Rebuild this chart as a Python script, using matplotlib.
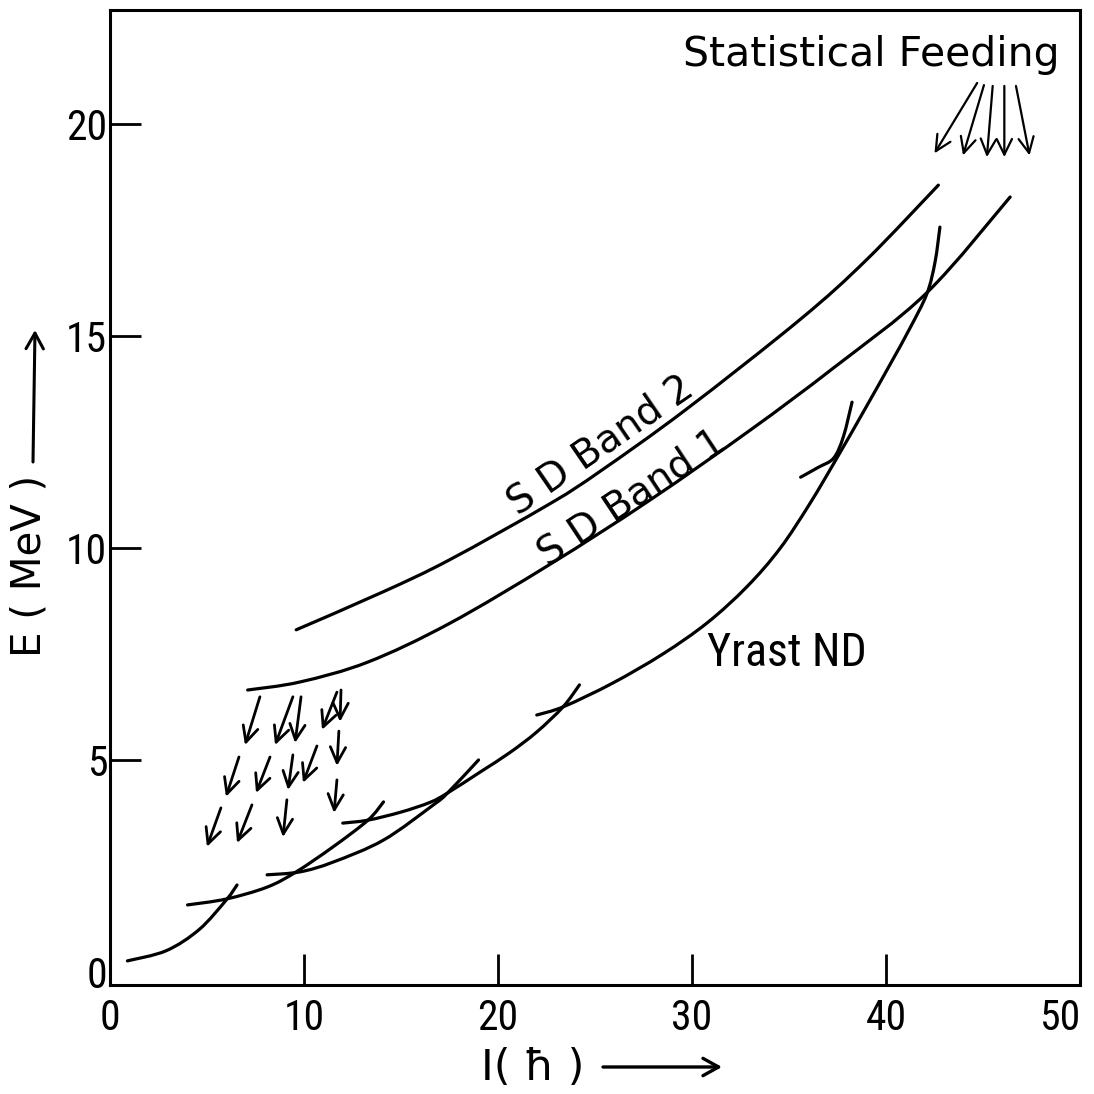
import matplotlib
matplotlib.use('Agg')
import matplotlib.pyplot as plt
from matplotlib import font_manager
from matplotlib.path import Path
from matplotlib.patches import PathPatch

# values: spin I (hbar) and energy E (MeV)
band2_I = [9.6, 14.1, 17.5, 22.7, 25.3, 29.7, 35.6, 39.0, 42.7]
band2_E = [8.07, 8.97, 9.72, 11.05, 11.82, 13.27, 15.40, 16.80, 18.56]

band1_I = [7.1, 9.8, 13.3, 17.5, 22.7, 27.8, 33.0, 37.3, 42.1, 46.4]
band1_E = [6.65, 6.84, 7.31, 8.22, 9.62, 11.12, 12.78, 14.25, 16.02, 18.28]

# normal deformed yrast segments
nd_a_I = [0.9, 2.9, 4.6, 6.0, 6.55]
nd_a_E = [0.26, 0.50, 1.00, 1.70, 2.05]
nd_b_I = [4.0, 6.0, 8.1, 9.6, 11.5, 13.3, 14.1]
nd_b_E = [1.58, 1.72, 2.00, 2.36, 2.95, 3.58, 4.01]
nd_c_I = [8.1, 9.8, 11.5, 14.1, 16.7, 17.4, 19.0]
nd_c_E = [2.29, 2.36, 2.59, 3.11, 3.95, 4.22, 5.00]
nd_d_I = [12.0, 13.3, 15.0, 16.5, 17.4, 19.1, 20.6, 22.0, 23.35, 24.2]
nd_d_E = [3.51, 3.58, 3.77, 4.00, 4.22, 4.72, 5.17, 5.66, 6.25, 6.77]
nd_e_I = [22.0, 23.4, 25.9, 28.5, 30.8, 32.84, 34.54, 36.08, 37.53, 38.92, 40.21, 41.24, 42.11, 42.53, 42.78]
nd_e_E = [6.06, 6.26, 6.81, 7.50, 8.24, 9.09, 9.99, 11.05, 12.17, 13.28, 14.33, 15.19, 16.00, 16.75, 17.57]
nd_f_I = [35.6, 36.5, 37.3, 37.8, 38.25]
nd_f_E = [11.67, 11.90, 12.12, 12.62, 13.44]

# SD -> ND decay arrows (tail, head)
decay_tail_I = [7.73, 9.43, 9.85, 11.70, 11.91, 6.65, 8.25, 9.43, 10.67, 11.80, 5.72, 7.32, 9.12, 11.70]
decay_tail_E = [6.49, 6.49, 6.49, 6.60, 6.65, 5.07, 5.07, 5.12, 5.33, 5.68, 3.87, 3.94, 4.06, 4.53]
decay_head_I = [6.96, 8.51, 9.54, 10.93, 11.86, 5.98, 7.53, 9.18, 9.95, 11.70, 5.00, 6.55, 8.92, 11.55]
decay_head_E = [5.35, 5.35, 5.40, 5.71, 5.90, 4.13, 4.22, 4.29, 4.46, 4.86, 2.95, 3.04, 3.18, 3.75]

# statistical feeding arrows
feed_tail_I = [44.7, 45.05, 45.5, 46.1, 46.7]
feed_tail_E = [20.97, 20.92, 20.9, 20.9, 20.9]
feed_head_I = [42.5, 43.97, 45.2, 46.1, 47.4]
feed_head_E = [19.31, 19.26, 19.22, 19.22, 19.26]

x_ticks = [0, 10, 20, 30, 40, 50]
y_ticks = [0, 5, 10, 15, 20]

# a condensed face for the stencil-like digits, if one is installed
installed = {f.name for f in font_manager.fontManager.ttflist}
narrow_family, narrow_stretch = None, 'normal'
for cand in ['Liberation Sans Narrow', 'Noto Sans Condensed', 'Roboto Condensed',
             'Open Sans Condensed', 'Noto Sans SemiCondensed']:
    if cand in installed:
        narrow_family = cand
        break
if narrow_family is None:
    for f in font_manager.fontManager.ttflist:
        if f.name in ('Noto Sans', 'Roboto', 'Open Sans', 'DejaVu Sans') and f.stretch == 'condensed' \
                and f.style == 'normal':
            narrow_family, narrow_stretch = f.name, 'condensed'
            break
if narrow_family is None:
    narrow_family = 'DejaVu Sans'
    tick_size, yrast_size = 27, 29
else:
    tick_size, yrast_size = 30, 33

plt.rcParams['font.family'] = ['DejaVu Sans']


def smooth_path(xs, ys):
    # cubic bezier through the read points (catmull-rom tangents)
    pts = list(zip(xs, ys))
    n = len(pts)
    verts = [pts[0]]
    codes = [Path.MOVETO]
    for i in range(n - 1):
        p0 = pts[i - 1] if i > 0 else pts[i]
        p1, p2 = pts[i], pts[i + 1]
        p3 = pts[i + 2] if i + 2 < n else pts[i + 1]
        c1 = (p1[0] + (p2[0] - p0[0]) / 6, p1[1] + (p2[1] - p0[1]) / 6)
        c2 = (p2[0] - (p3[0] - p1[0]) / 6, p2[1] - (p3[1] - p1[1]) / 6)
        verts += [c1, c2, p2]
        codes += [Path.CURVE4] * 3
    return Path(verts, codes)


fig = plt.figure(figsize=(10.94, 10.94), dpi=100)
ax = fig.add_axes([0.1005, 0.0996, 0.8867, 0.8912])
ax.set_xlim(0, 50)
ax.set_ylim(-0.31, 22.69)

lw = 2.3
curves = [(band2_I, band2_E), (band1_I, band1_E), (nd_a_I, nd_a_E), (nd_b_I, nd_b_E),
          (nd_c_I, nd_c_E), (nd_d_I, nd_d_E), (nd_e_I, nd_e_E), (nd_f_I, nd_f_E)]
for xs, ys in curves:
    ax.add_patch(PathPatch(smooth_path(xs, ys), fill=False, edgecolor='black', lw=lw,
                           capstyle='round', joinstyle='round'))

arrow_style = '->,head_length=0.45,head_width=0.22'
for x0, y0, x1, y1 in zip(decay_tail_I, decay_tail_E, decay_head_I, decay_head_E):
    ax.annotate('', xy=(x1, y1), xytext=(x0, y0),
                arrowprops=dict(arrowstyle=arrow_style, lw=2.0, color='black',
                                shrinkA=0, shrinkB=0, mutation_scale=25))

for x0, y0, x1, y1 in zip(feed_tail_I, feed_tail_E, feed_head_I, feed_head_E):
    ax.annotate('', xy=(x1, y1), xytext=(x0, y0),
                arrowprops=dict(arrowstyle=arrow_style, lw=1.6, color='black',
                                shrinkA=0, shrinkB=0, mutation_scale=25))

# labels on the curves
ax.text(25.3, 12.43, 'S D Band 2', rotation=34.5, ha='center', va='center', fontsize=28)
ax.text(26.9, 11.18, 'S D Band 1', rotation=33.5, ha='center', va='center', fontsize=28)
ax.text(34.9, 7.52, 'Yrast ND', ha='center', va='center', fontsize=yrast_size,
        family=narrow_family, stretch=narrow_stretch)
ax.text(48.95, 21.63, 'Statistical Feeding', ha='right', va='center', fontsize=29.5)

# frame and ticks
for s in ax.spines.values():
    s.set_linewidth(2.2)
ax.set_xticks(x_ticks)
ax.set_yticks(y_ticks)
ax.tick_params(direction='in', length=22, width=2.0, labelsize=tick_size)
ax.tick_params(axis='x', pad=9)
ax.tick_params(axis='y', pad=2)
for lab in ax.get_xticklabels() + ax.get_yticklabels():
    lab.set_family(narrow_family)
    lab.set_fontstretch(narrow_stretch)
ax.get_xticklabels()[-1].set_ha('right')
ax.xaxis.get_major_ticks()[0].tick1line.set_visible(False)
ax.xaxis.get_major_ticks()[-1].tick1line.set_visible(False)
ax.yaxis.get_major_ticks()[0].tick1line.set_visible(False)

# axis titles with hand-drawn arrows
fig.text(30 / 1094, 1 - 566 / 1094, 'E ( MeV )', rotation=90, ha='center', va='center',
         fontsize=29)
ax.annotate('', xy=(35 / 1094, 1 - 330 / 1094), xytext=(33 / 1094, 1 - 462 / 1094),
            xycoords='figure fraction', textcoords='figure fraction',
            arrowprops=dict(arrowstyle='->,head_length=0.45,head_width=0.25', lw=2.2,
                            color='black', shrinkA=0, shrinkB=0, mutation_scale=25))
fig.text(533 / 1094, 1 - 1068 / 1094, 'I( ħ )', ha='center', va='center', fontsize=31)
ax.annotate('', xy=(722 / 1094, 1 - 1067 / 1094), xytext=(603 / 1094, 1 - 1067 / 1094),
            xycoords='figure fraction', textcoords='figure fraction',
            arrowprops=dict(arrowstyle='->,head_length=0.45,head_width=0.25', lw=2.4,
                            color='black', shrinkA=0, shrinkB=0, mutation_scale=25))

fig.savefig('out.png', dpi=100)
